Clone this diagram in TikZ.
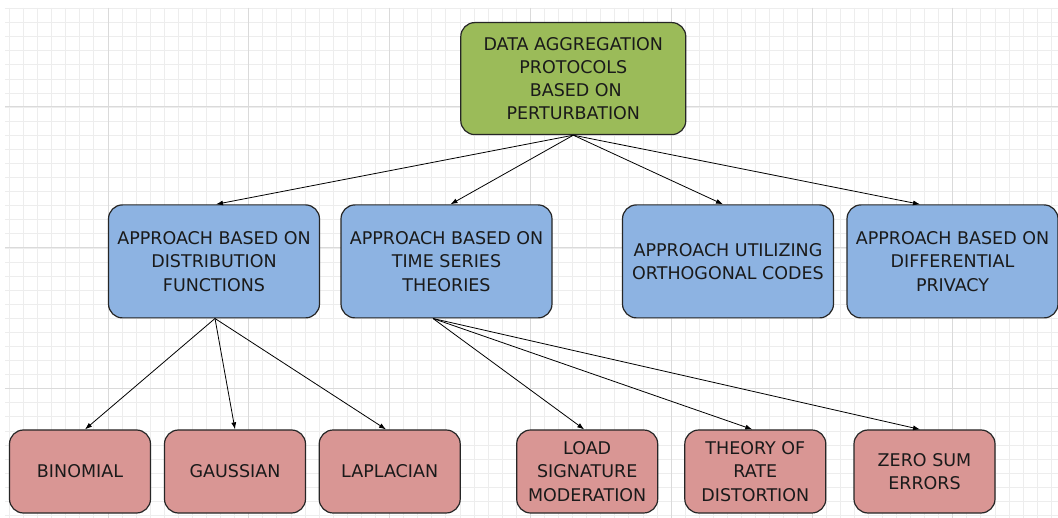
\documentclass[tikz,border=0pt]{standalone}
\usepackage{fontspec}
\setmainfont{DejaVu Sans}
\usetikzlibrary{arrows.meta}

\definecolor{rootfill}{HTML}{9BBB59}
\definecolor{midfill}{HTML}{8DB3E2}
\definecolor{leaffill}{HTML}{D99694}
\definecolor{edgeline}{HTML}{262626}
\definecolor{gridminor}{HTML}{EDEDED}
\definecolor{gridmajor}{HTML}{DADADA}
\definecolor{ink}{HTML}{1A1A1A}

\tikzset{
  box/.style={draw=edgeline, line width=1.2pt, rounded corners=14pt,
    align=center, inner sep=0pt, text=ink,
    font=\fontsize{17.5}{23.3}\selectfont},
  rootbox/.style={box, fill=rootfill, minimum width=225pt, minimum height=112pt},
  midbox/.style={box, fill=midfill, minimum width=211pt, minimum height=113pt},
  leafbox/.style={box, fill=leaffill, minimum width=141pt, minimum height=83pt},
  link/.style={draw=black, line width=0.8pt, -{Latex[length=7pt,width=5pt]}},
  minorline/.style={gridminor, line width=0.9pt},
  majorline/.style={gridmajor, line width=0.9pt}
}

\begin{document}
\begin{tikzpicture}[x=1pt,y=-1pt]
  \useasboundingbox (0,0) rectangle (1058,518);
  \fill[white] (0,0) rectangle (1058,518);

  % background grid paper
  \begin{scope}
    \clip (5,8) rectangle (1058,518);
    \foreach \k in {0,...,74} {
      \pgfmathsetmacro\xx{9.4+14.08*\k}
      \draw[minorline] (\xx,8) -- (\xx,518);
    }
    \foreach \k in {0,...,36} {
      \pgfmathsetmacro\yy{8.6+14.08*\k}
      \draw[minorline] (5,\yy) -- (1058,\yy);
    }
    \foreach \k in {0,...,6} {
      \pgfmathsetmacro\xx{108+140.8*\k}
      \draw[majorline] (\xx,8) -- (\xx,518);
    }
    \foreach \k in {0,...,2} {
      \pgfmathsetmacro\yy{106.7+140.8*\k}
      \draw[majorline] (5,\yy) -- (1058,\yy);
    }
  \end{scope}

  % root
  \node[rootbox] (root) at (573.3,78.6)
    {DATA AGGREGATION\\PROTOCOLS\\\hspace*{5pt}BASED ON\\PERTURBATION};

  % second level
  \node[midbox] (dist) at (214,261.4)
    {APPROACH BASED ON\\DISTRIBUTION\\FUNCTIONS};
  \node[midbox] (ts) at (446.5,261.4)
    {APPROACH BASED ON\\TIME SERIES\\THEORIES};
  \node[midbox] (orth) at (728,261.4)
    {APPROACH UTILIZING\\ORTHOGONAL CODES};
  \node[midbox] (diff) at (952.5,261.4)
    {APPROACH BASED ON\\DIFFERENTIAL\\PRIVACY};

  % third level
  \node[leafbox] (binom) at (80,471.5) {BINOMIAL};
  \node[leafbox] (gauss) at (235,471.5) {GAUSSIAN};
  \node[leafbox] (lapl) at (389.7,471.5) {LAPLACIAN};
  \node[leafbox] (load) at (587.2,471.5) {LOAD\\SIGNATURE\\MODERATION};
  \node[leafbox] (rate) at (755.3,471.5) {THEORY OF\\RATE\\DISTORTION};
  \node[leafbox] (zero) at (924.5,471.5) {ZERO SUM\\ERRORS};

  % connectors
  \draw[link] (root.south) -- ([xshift=2pt]dist.north);
  \draw[link] (root.south) -- ([xshift=4pt]ts.north);
  \draw[link] (root.south) -- ([xshift=-5pt]orth.north);
  \draw[link] (root.south) -- ([xshift=-32.5pt]diff.north);

  \draw[link] ([xshift=1pt]dist.south) -- ([xshift=5pt]binom.north);
  \draw[link] ([xshift=1pt]dist.south) -- (gauss.north);
  \draw[link] ([xshift=1pt]dist.south) -- ([xshift=-3.7pt]lapl.north);

  \draw[link] ([xshift=-13.5pt]ts.south) -- ([xshift=-3pt]load.north);
  \draw[link] ([xshift=-13.5pt]ts.south) -- ([xshift=-3pt]rate.north);
  \draw[link] ([xshift=-13.5pt]ts.south) -- ([xshift=-4.5pt]zero.north);
\end{tikzpicture}
\end{document}
